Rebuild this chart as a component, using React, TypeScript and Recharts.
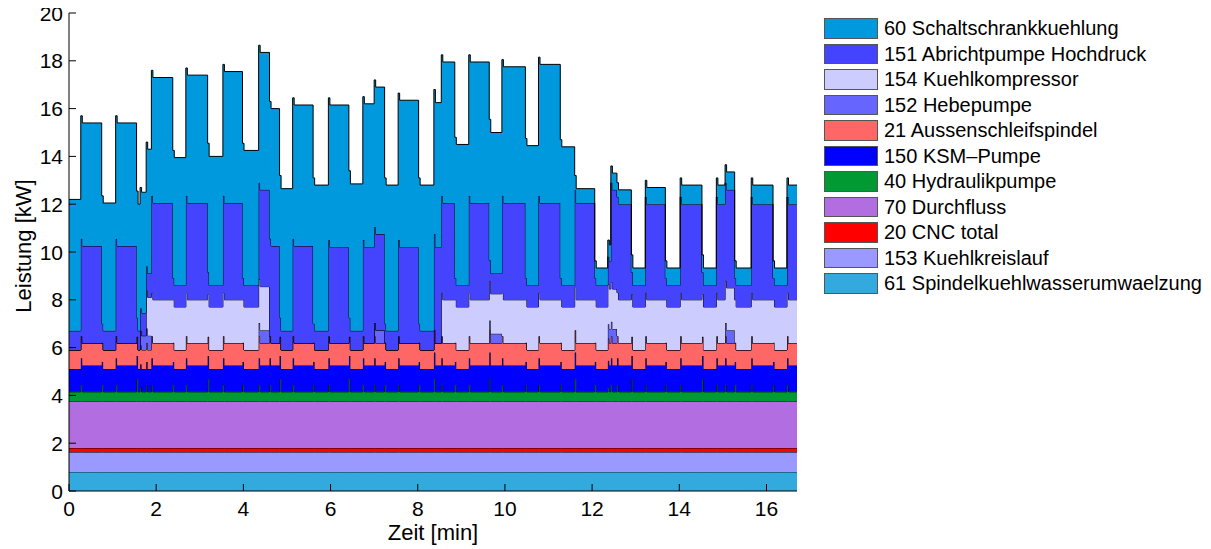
import React from 'react';
import { AreaChart, Area, XAxis, YAxis } from 'recharts';

// time breakpoints [min] (each value holds until the next breakpoint)
const time = [0, 0.27, 0.75, 1.07, 1.55, 1.63, 1.77, 1.89, 2.38, 2.68, 3.18, 3.53, 3.98, 4.35, 4.6, 4.83, 5.13, 5.6, 5.95, 6.42, 6.74, 7.0, 7.24, 7.55, 8.02, 8.37, 8.54, 8.85, 9.17, 9.64, 9.93, 10.47, 10.77, 11.27, 11.6, 12.06, 12.36, 12.43, 12.57, 12.9, 13.22, 13.68, 14.02, 14.52, 14.85, 15.05, 15.27, 15.65, 16.15, 16.47, 16.7];

// layer values [kW], bottom to top
const s61 = [0.8, 0.8, 0.8, 0.8, 0.8, 0.8, 0.8, 0.8, 0.8, 0.8, 0.8, 0.8, 0.8, 0.8, 0.8, 0.8, 0.8, 0.8, 0.8, 0.8, 0.8, 0.8, 0.8, 0.8, 0.8, 0.8, 0.8, 0.8, 0.8, 0.8, 0.8, 0.8, 0.8, 0.8, 0.8, 0.8, 0.8, 0.8, 0.8, 0.8, 0.8, 0.8, 0.8, 0.8, 0.8, 0.8, 0.8, 0.8, 0.8, 0.8, 0.8];
const s153 = [0.83, 0.83, 0.83, 0.83, 0.83, 0.83, 0.83, 0.83, 0.83, 0.83, 0.83, 0.83, 0.83, 0.83, 0.83, 0.83, 0.83, 0.83, 0.83, 0.83, 0.83, 0.83, 0.83, 0.83, 0.83, 0.83, 0.83, 0.83, 0.83, 0.83, 0.83, 0.83, 0.83, 0.83, 0.83, 0.83, 0.83, 0.83, 0.83, 0.83, 0.83, 0.83, 0.83, 0.83, 0.83, 0.83, 0.83, 0.83, 0.83, 0.83, 0.83];
const s20 = [0.17, 0.17, 0.17, 0.17, 0.17, 0.17, 0.17, 0.17, 0.17, 0.17, 0.17, 0.17, 0.17, 0.17, 0.17, 0.17, 0.17, 0.17, 0.17, 0.17, 0.17, 0.17, 0.17, 0.17, 0.17, 0.17, 0.17, 0.17, 0.17, 0.17, 0.17, 0.17, 0.17, 0.17, 0.17, 0.17, 0.17, 0.17, 0.17, 0.17, 0.17, 0.17, 0.17, 0.17, 0.17, 0.17, 0.17, 0.17, 0.17, 0.17, 0.17];
const s70 = [1.95, 1.95, 1.95, 1.95, 1.95, 1.95, 1.95, 1.95, 1.95, 1.95, 1.95, 1.95, 1.95, 1.95, 1.95, 1.95, 1.95, 1.95, 1.95, 1.95, 1.95, 1.95, 1.95, 1.95, 1.95, 1.95, 1.95, 1.95, 1.95, 1.95, 1.95, 1.95, 1.95, 1.95, 1.95, 1.95, 1.95, 1.95, 1.95, 1.95, 1.95, 1.95, 1.95, 1.95, 1.95, 1.95, 1.95, 1.95, 1.95, 1.95, 1.95];
const s40 = [0.4, 0.4, 0.4, 0.4, 0.4, 0.4, 0.4, 0.4, 0.4, 0.4, 0.4, 0.4, 0.4, 0.4, 0.4, 0.4, 0.4, 0.4, 0.4, 0.4, 0.4, 0.4, 0.4, 0.4, 0.4, 0.4, 0.4, 0.4, 0.4, 0.4, 0.4, 0.4, 0.4, 0.4, 0.4, 0.4, 0.4, 0.4, 0.4, 0.4, 0.4, 0.4, 0.4, 0.4, 0.4, 0.4, 0.4, 0.4, 0.4, 0.4, 0.4];
// short switching peak of the hydraulic pump at the start of each segment
const s40Peak = [0, 0.3, 0.3, 0.3, 0.55, 0.2, 0.3, 0.3, 0.3, 0.3, 0.55, 0.3, 0.3, 0.3, 0.3, 0.55, 0.3, 0.3, 0.3, 0.55, 0.3, 0.3, 0.3, 0.3, 0.3, 0.55, 0.3, 0.3, 0.3, 0.55, 0.3, 0.3, 0.3, 0.3, 0.55, 0.3, 0.2, 0.3, 0.3, 0.55, 0.3, 0.3, 0.3, 0.55, 0.3, 0.3, 0.3, 0.3, 0.3, 0.3, 0];
const s150 = [0.95, 1.1, 0.95, 1.1, 0.95, 0.95, 0.95, 1.1, 0.95, 1.1, 0.95, 1.1, 0.95, 1.1, 1.1, 0.95, 1.1, 0.95, 1.1, 0.95, 1.1, 1.1, 0.95, 1.1, 0.95, 1.1, 1.1, 0.95, 1.1, 1.1, 1.1, 0.95, 1.1, 0.95, 1.1, 0.95, 1.1, 1.1, 1.1, 0.95, 1.1, 0.95, 1.1, 0.95, 1.1, 1.1, 0.95, 1.1, 0.95, 1.1, 1.1];
const s21 = [0.8, 0.93, 0.8, 0.93, 0.8, 0.8, 0.8, 0.93, 0.8, 0.93, 0.8, 0.93, 0.8, 0.93, 0.93, 0.8, 0.93, 0.8, 0.93, 0.8, 0.93, 0.93, 0.8, 0.93, 0.8, 0.93, 0.93, 0.8, 0.93, 0.93, 0.93, 0.8, 0.93, 0.8, 0.93, 0.8, 0.93, 0.93, 0.93, 0.8, 0.93, 0.8, 0.93, 0.8, 0.93, 0.93, 0.8, 0.93, 0.8, 0.93, 0.93];
const s152 = [0, 0, 0, 0, 0, 0.6, 0.6, 0, 0, 0, 0, 0, 0, 0.55, 0, 0, 0, 0, 0, 0, 0, 0.55, 0, 0, 0, 0, 0, 0, 0, 0.4, 0, 0, 0, 0, 0, 0, 0.6, 0.6, 0, 0, 0, 0, 0, 0, 0, 0.55, 0, 0, 0, 0, 0];
const s154 = [0, 0, 0, 0, 0, 0, 1.6, 1.82, 1.8, 1.82, 1.8, 1.82, 1.8, 1.82, 0, 0, 0, 0, 0, 0, 0, 0, 0, 0, 0, 0, 1.82, 1.8, 1.82, 1.67, 1.82, 1.8, 1.82, 1.8, 1.82, 1.8, 1.67, 1.67, 1.82, 1.8, 1.82, 1.8, 1.82, 1.8, 1.82, 1.77, 1.8, 1.82, 1.8, 1.82, 1.82];
const s151 = [0.8, 4.07, 0.8, 4.07, 0.8, 0.95, 1.0, 4.05, 0.9, 4.05, 0.9, 4.05, 0.9, 4.05, 4.07, 0.8, 4.07, 0.8, 4.02, 0.8, 4.02, 4.02, 0.8, 4.02, 0.8, 4.02, 4.05, 0.9, 4.05, 0.85, 4.05, 0.9, 4.05, 0.9, 4.05, 0.9, 1.15, 4.15, 4.0, 0.9, 4.0, 0.9, 4.0, 0.9, 4.0, 4.1, 0.9, 4.0, 0.9, 4.0, 4.0];
const s60 = [5.5, 5.15, 5.35, 5.15, 5.3, 5.05, 5.2, 5.25, 5.35, 5.35, 5.4, 5.5, 5.65, 5.75, 5.75, 5.95, 5.9, 6.1, 5.95, 6.15, 6.0, 6.15, 6.1, 6.15, 6.1, 6.05, 5.9, 5.9, 5.9, 5.9, 5.7, 5.85, 5.8, 5.8, 0.6, 0.73, 0.7, 0.7, 0.6, 0.73, 0.7, 0.73, 0.8, 0.73, 0.8, 0.75, 0.73, 0.8, 0.73, 0.8, 0.8];

const peakDuration = 0.035; // [min]

const xTicks = [0, 2, 4, 6, 8, 10, 12, 14, 16];
const yTicks = [0, 2, 4, 6, 8, 10, 12, 14, 16, 18, 20];

// stacking order bottom -> top
const series = [
  { key: 's61', name: '61 Spindelkuehlwasserumwaelzung', color: '#33AADD', values: s61 },
  { key: 's153', name: '153 Kuehlkreislauf', color: '#9999FF', values: s153 },
  { key: 's20', name: '20 CNC total', color: '#FF0000', values: s20 },
  { key: 's70', name: '70 Durchfluss', color: '#B26EE0', values: s70 },
  { key: 's40', name: '40 Hydraulikpumpe', color: '#009933', values: s40 },
  { key: 's150', name: '150 KSM\u2013Pumpe', color: '#0000FF', values: s150 },
  { key: 's21', name: '21 Aussenschleifspindel', color: '#FF6666', values: s21 },
  { key: 's152', name: '152 Hebepumpe', color: '#6666FF', values: s152 },
  { key: 's154', name: '154 Kuehlkompressor', color: '#CCCCFF', values: s154 },
  { key: 's151', name: '151 Abrichtpumpe Hochdruck', color: '#4444FF', values: s151 },
  { key: 's60', name: '60 Schaltschrankkuehlung', color: '#0099DD', values: s60 },
];

const makeRow = (t: number, i: number, withPeak: boolean) => {
  const row: Record<string, number> = { t };
  series.forEach((s) => {
    row[s.key] = s.values[i];
  });
  if (withPeak) row.s40 = s40[i] + s40Peak[i];
  return row;
};

const data = time.flatMap((t, i) =>
  s40Peak[i] > 0 && i < time.length - 1
    ? [makeRow(t, i, true), makeRow(t + peakDuration, i, false)]
    : [makeRow(t, i, false)]
);

const FONT = '"Liberation Sans", Arial, Helvetica, sans-serif';
const TICK = 7;

const BottomTick = (p: any) => (
  <g>
    <line x1={p.x} x2={p.x} y1={p.y} y2={p.y - TICK} stroke="#000" strokeWidth={1} />
    <text x={p.x} y={p.y + 17} textAnchor="middle" dominantBaseline="central" fontSize={21} fontFamily={FONT} fill="#000">
      {p.payload.value}
    </text>
  </g>
);
const LeftTick = (p: any) => (
  <g>
    <line x1={p.x} x2={p.x + TICK} y1={p.y} y2={p.y} stroke="#000" strokeWidth={1} />
    <text x={p.x - 6} y={p.y} textAnchor="end" dominantBaseline="central" fontSize={21} fontFamily={FONT} fill="#000">
      {p.payload.value}
    </text>
  </g>
);
const TopTick = (p: any) => (
  <line x1={p.x} x2={p.x} y1={p.y} y2={p.y + TICK} stroke="#000" strokeWidth={1} />
);
const RightTick = (p: any) => (
  <line x1={p.x} x2={p.x - TICK} y1={p.y} y2={p.y} stroke="#000" strokeWidth={1} />
);

const YLabel = () => (
  <text x={15} y={246} transform="rotate(-90 15 246)" textAnchor="middle" dominantBaseline="central" fontSize={22} fontFamily={FONT} fill="#000">
    Leistung [kW]
  </text>
);
const XLabel = () => (
  <text x={425} y={532} textAnchor="middle" dominantBaseline="central" fontSize={22} fontFamily={FONT} fill="#000">
    Zeit [min]
  </text>
);

const legendItems = [...series].reverse();

export default function App() {
  return (
    <div style={{ position: 'relative', width: 1195, height: 549, marginTop: -8 }}>
      <AreaChart width={1195} height={549} data={data} margin={{ top: 13, right: 406, bottom: 0, left: 0 }}>
        <XAxis
          xAxisId={0}
          dataKey="t"
          type="number"
          domain={[0, 16.7]}
          ticks={xTicks}
          interval={0}
          height={58}
          tickSize={0}
          tickMargin={0}
          tickLine={false}
          axisLine={{ stroke: '#000', strokeWidth: 1 }}
          tick={<BottomTick />}
          label={<XLabel />}
        />
        <XAxis
          xAxisId="top"
          orientation="top"
          dataKey="t"
          type="number"
          domain={[0, 16.7]}
          ticks={xTicks}
          interval={0}
          height={0}
          tickSize={0}
          tickMargin={0}
          tickLine={false}
          axisLine={{ stroke: '#000', strokeWidth: 1 }}
          tick={<TopTick />}
        />
        <YAxis
          yAxisId={0}
          type="number"
          domain={[0, 20]}
          ticks={yTicks}
          interval={0}
          width={61}
          tickSize={0}
          tickMargin={0}
          tickLine={false}
          axisLine={{ stroke: '#000', strokeWidth: 1 }}
          tick={<LeftTick />}
          label={<YLabel />}
        />
        <YAxis
          yAxisId="right"
          orientation="right"
          type="number"
          domain={[0, 20]}
          ticks={yTicks}
          interval={0}
          width={0}
          tickSize={0}
          tickMargin={0}
          tickLine={false}
          axisLine={{ stroke: '#000', strokeWidth: 1 }}
          tick={<RightTick />}
        />
        {series.map((s) => (
          <Area
            key={s.key}
            xAxisId={0}
            yAxisId={0}
            dataKey={s.key}
            name={s.name}
            stackId="stack"
            type="stepAfter"
            fill={s.color}
            fillOpacity={1}
            stroke="#000"
            strokeWidth={1}
            dot={false}
            activeDot={false}
            isAnimationActive={false}
          />
        ))}
      </AreaChart>
      <div style={{ position: 'absolute', left: 816, top: 18, width: 378, fontFamily: FONT }}>
        {legendItems.map((s, i) => (
          <div key={s.key} style={{ position: 'absolute', left: 0, top: i * 25.5, height: 20, width: 378, whiteSpace: 'nowrap' }}>
            <div
              style={{
                position: 'absolute',
                left: 0,
                top: 0,
                width: 52,
                height: 18.5,
                background: s.color,
                border: '1px solid #555',
              }}
            />
            <div style={{ position: 'absolute', left: 60, top: -2, fontSize: 20, lineHeight: '24px', color: '#000' }}>{s.name}</div>
          </div>
        ))}
      </div>
    </div>
  );
}
